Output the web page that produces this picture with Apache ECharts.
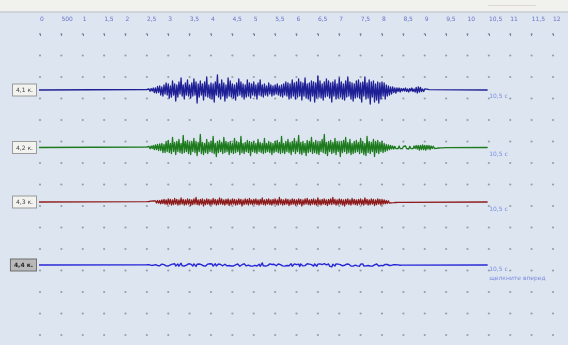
<!DOCTYPE html>
<html><head><meta charset="utf-8">
<script src="https://cdn.jsdelivr.net/npm/echarts@6/dist/echarts.min.js"></script>
<style>html,body{margin:0;padding:0;background:#dde6f0;overflow:hidden}#c{width:568px;height:345px}</style>
</head><body><div id="c"></div><script>
// --- data ---
const tickTimes = [0,0.5,1,1.5,2,2.5,3,3.5,4,4.5,5,5.5,6,6.5,7,7.5,8,8.5,9,9.5,10,10.5,11,11.5,12];
const tickLabels = ['0','500','1','1,5','2','2,5','3','3,5','4','4,5','5','5,5','6','6,5','7','7,5','8','8,5','9','9,5','10','10,5','11','11,5','12'];
const dotRows = [0,1,2,3,4,5,6,7,8,9,10,11,12,13,14];
const traceNames = ['4,1 к.','4,2 к.','4,3 к.','4,4 к.'];
const traceStart = -0.05;
const traceEnd = 10.46;
const burstStart = 2.5;
const sampleStep = 0.025;
const endText = '10,5 с';
const hintText = 'щелкните вперед';

const trace1 = [
 0.5,-0.8,1,-1.2,1.5,-1,2,-2.5,2,-3,3.5,-2.5,4,-5,3,-6,5,-4,7,-5,
 6,-8,4,-7,9,-5,6,-11,5,-7,8,-4,12,-6,5,-9,7,-5,10,-6,
 5,-8,7,-6,11,-5,8,-13,6,-7,9,-5,6,-10,8,-6,13,-7,5,-8,
 7,-9,6,-12,8,-5,15,-7,6,-9,10,-6,7,-11,5,-8,12,-6,9,-7,
 6,-8,5,-10,7,-6,11,-5,8,-7,6,-9,5,-7,10,-6,7,-8,6,-5,
 8,-6,5,-9,7,-5,10,-6,5,-7,6,-5,4,-6,7,-4,5,-6,4,-5,
 5,-4,6,-5,4,-6,5,-7,6,-5,8,-6,7,-9,6,-8,10,-6,7,-9,
 8,-7,11,-6,8,-10,7,-6,12,-8,6,-9,7,-11,9,-6,8,-12,7,-8,
 14,-7,9,-8,6,-10,8,-7,11,-6,9,-8,7,-12,8,-6,10,-9,6,-8,
 12,-7,8,-9,6,-10,9,-7,13,-6,8,-9,7,-11,6,-8,9,-7,10,-8,
 7,-12,8,-6,13,-9,7,-8,10,-14,8,-7,9,-12,6,-10,8,-13,7,-9,
 8,-6,7,-9,5,-6,4,-5,3,-4,3,-2.5,2,-3,2,-1.5,2,-2,1.5,-1,
 1.5,-1,2,-1.5,1,-2,1.5,-1,2,-1.5,1,-2,2.5,-3,3,-2,2.5,-1.5,1,-1.5,
 1,-0.8,0.8,-0.5,0.4,-0.3];
const trace2 = [
 0.5,-0.8,1,-1.2,1.5,-1,2,-2,2.5,-2,3,-3,3.5,-3,4,-5,3,-5,6,-4,
 7,-5,4,-6,10,-4,5,-7,6,-4,8,-5,4,-6,12,-5,6,-4,7,-6,
 5,-7,6,-4,9,-5,6,-8,5,-4,13,-6,5,-7,4,-5,8,-6,5,-4,
 6,-5,11,-6,4,-9,6,-5,7,-4,5,-6,10,-5,6,-4,5,-7,6,-5,
 4,-6,9,-5,6,-4,5,-7,11,-5,4,-6,5,-4,7,-5,6,-8,5,-4,
 6,-5,4,-6,8,-4,5,-5,4,-6,9,-5,4,-4,6,-5,5,-7,4,-5,
 6,-4,7,-5,5,-6,11,-5,4,-6,6,-4,8,-5,5,-7,6,-4,9,-6,
 5,-4,12,-6,5,-7,6,-5,4,-8,7,-5,6,-4,10,-6,5,-5,7,-6,
 5,-7,6,-4,8,-5,13,-6,5,-8,6,-4,7,-6,5,-5,9,-7,6,-4,
 5,-9,6,-5,7,-4,10,-6,5,-5,8,-7,4,-6,6,-5,7,-4,5,-6,
 9,-5,6,-7,4,-8,11,-5,6,-6,5,-4,8,-9,6,-5,7,-6,5,-4,
 6,-5,4,-4,3,-3,2.5,-2,2,-1.5,1.5,-1.5,1.2,-1,1,-1.2,1.5,-1,1,-1.2,
 1,-1,1.5,-1,1,-1.5,1.2,-1,1,-1.2,1.5,-1,2,-1.5,2,-2.5,2,-2,2.5,-2,
 2,-2.5,2,-1.5,2,-2,1.5,-1,1.2,-1,1,-0.8,0.8,-0.5,0.5,-0.4,0.3,-0.3,0.2,-0.2];
const trace3 = [
 0.3,-0.4,0.5,-0.6,0.8,-0.7,1,-1,1.2,-1,1.5,-1.2,1.5,-1.8,2,-1.5,2.5,-2,2,-2.5,
 3,-2,2.5,-3,2,-2.5,3.5,-2,2.5,-3,2,-2.5,4,-2,2.5,-3,2,-2.5,3,-2,
 2.5,-3.5,2,-2.5,3,-2,4.5,-2.5,2,-3,2.5,-2,3,-4,2,-2.5,3,-2,2.5,-3,
 2,-2.5,3.5,-2,2.5,-3,2,-2.5,4,-2,3,-2.5,2,-3,2.5,-2,3,-3.5,2,-2.5,
 3,-2,2.5,-3,2,-2.5,3,-2,2.5,-4,2,-2.5,3,-2,2.5,-3,3.5,-2,2,-2.5,
 2.5,-2,3,-2.5,2,-3,2.5,-2,4,-2.5,2,-3,2.5,-2,3,-2.5,2,-3,2.5,-2,
 3,-2.5,2,-3,4.5,-2,2.5,-3,2,-2.5,3,-2,2.5,-3.5,2,-2.5,3,-2,2.5,-3,
 2,-2.5,3,-2,2.5,-4,2,-2.5,3,-2,3.5,-2.5,2,-3,2.5,-2,3,-2.5,2,-3,
 4,-2.5,2,-3,2.5,-2,3,-2.5,2,-3.5,2.5,-2,3,-2.5,4.5,-2,2.5,-3,2,-2.5,
 3,-2,2.5,-3,2,-4,2.5,-2,3,-2.5,2,-3,3.5,-2,2.5,-2.5,2,-3,2.5,-2,
 3,-2.5,2,-3,4,-2,2.5,-3,2,-2.5,3,-2,2.5,-3.5,2,-2.5,3,-2,2.5,-3,
 2.5,-2,2,-1.8,1.5,-1.5,1.2,-1,1,-0.8,0.8,-0.7,0.6,-0.5,0.5,-0.4,0.4,-0.3,0.3,-0.3];
const trace4 = [
 0.2,-0.3,0.3,0.1,-0.4,0.5,-0.3,-0.6,0.4,0.7,-0.5,0.6,-0.8,-0.4,0.9,-0.6,0.3,1,-0.9,0.5,
 -1,0.8,0.2,-1.1,0.9,-0.4,1.3,-1,-0.3,0.9,-1.2,0.6,1.8,-0.8,0.4,-1,0.9,-0.2,-1.1,1.2,
 -0.7,0.9,0.3,-1,1.1,-0.5,-1.4,0.8,-0.2,1,-0.9,0.4,2.4,-0.8,0.6,-1.1,0.2,0.9,-1,1.2,
 -0.6,1,-1.1,0.3,1.3,-0.9,-0.4,1,-1,0.5,1.1,-0.8,-1.2,0.7,0.2,-0.9,1,-0.5,1.4,-1,
 0.4,-1,0.9,0.2,-1.1,1.1,-0.6,-1.2,0.8,0.3,-1,1.2,-0.4,-0.9,1,-0.2,1.2,-1,0.5,-1.1,
 0.9,-0.3,1.1,-1,-0.5,0.8,-1.3,0.6,2.1,-0.9,0.3,-1,1,-0.6,-0.2,1.1,-0.9,0.5,-1.1,0.8,
 1.2,-0.8,-0.3,1,-1,0.4,1.4,-0.9,0.2,-1.1,0.9,-0.5,1,-0.8,-0.3,1.2,-1.2,0.6,1.1,-0.9,
 0.3,-1,0.9,-1.4,1.1,0.2,-0.9,1,-0.6,-1.1,1.2,-0.4,0.9,-1,0.3,0.8,-1.1,1.1,-0.5,-1.2,
 0.9,-0.3,1.1,-0.9,0.4,-1,1.3,-0.6,0.2,-0.9,1,-1.1,0.5,-1.9,0.8,0.3,-1,1.1,-0.7,0.9,
 -1.1,0.4,0.9,-0.8,1.2,-0.3,-1,1,-0.6,0.8,1.4,-1,0.3,-1.1,0.9,-0.2,1,-0.9,0.5,-1.2,
 0.9,-0.4,1.1,-1,0.2,-0.9,1,-0.5,1.2,-1,0.4,-1.1,0.9,0.2,-0.8,1,-0.6,-1,0.9,-0.4,
 0.7,-0.7,0.3,0.6,-0.6,0.5,-0.2,-0.5,0.4,-0.4,0.1,0.4,-0.3,0.3,-0.3,0.1,0.2,-0.2,0.1,-0.1];
const traces = [trace1, trace2, trace3, trace4];

// --- styles ---
const traceColors = ['#1f1f95','#1d7a1d','#8e1b1b','#2626d6'];
const traceWidths = [1.3,1.3,1.3,1.4];
const traceRanges = [20,20,20,20];
const traceCenters = [90,147.5,202,265];
const endOffsets = [[0,6],[0,6.5],[0,7],[0,8.5]];

function traceData(vals){
  const d = [[traceStart,0]];
  vals.forEach((v,i)=>d.push([burstStart + i*sampleStep, v]));
  d.push([traceEnd,0]);
  return d;
}
const dots = [];
tickTimes.forEach(t=>dotRows.forEach(r=>dots.push([t,r])));

const grids = [{left:40,width:513,top:34,height:301}];
const xAxes = [{gridIndex:0,type:'value',position:'top',min:0,max:12,interval:0.5,offset:22,
  axisLine:{show:false},splitLine:{show:false},
  axisTick:{show:true,inside:true,length:2,lineStyle:{color:'#6d74a8',width:1}},
  axisLabel:{inside:true,margin:4,align:'left',fontSize:6,color:'#6a72c8',fontFamily:'DejaVu Sans',
    formatter:v=>{const k=tickTimes.findIndex(t=>Math.abs(t-v)<1e-6);return k<0?'':tickLabels[k];}}}];
const yAxes = [{gridIndex:0,type:'value',min:0,max:14,inverse:true,show:false}];
const series = [{type:'scatter',xAxisIndex:0,yAxisIndex:0,data:dots,symbol:'circle',symbolSize:2.2,
  itemStyle:{color:'#858c99'},silent:true,z:1}];

traces.forEach((vals,k)=>{
  const gi = k+1;
  grids.push({left:40,width:513,top:traceCenters[k]-20,height:40});
  xAxes.push({gridIndex:gi,type:'value',min:0,max:12,show:false});
  const sel = k===3;
  const r = traceRanges[k];
  yAxes.push({gridIndex:gi,type:'value',min:-r,max:r,interval:r,
    axisLine:{show:false},axisTick:{show:false},splitLine:{show:false},
    axisLabel:{margin:4,formatter:v=>v===0?'{b|'+traceNames[k]+'}':'',
      rich:{b:{fontSize:6,fontFamily:'DejaVu Sans',color:sel?'#222':'#444',fontWeight:sel?'bold':'normal',
        backgroundColor:sel?'#b9b9b9':'#f2f2ee',borderColor:sel?'#6e6e6e':'#9a9a9a',borderWidth:1,
        padding:[3,3,2,3],lineHeight:7}}}});
  series.push({type:'line',xAxisIndex:gi,yAxisIndex:gi,data:traceData(vals),symbol:'none',
    clip:false,silent:true,z:3,sampling:null,
    lineStyle:{color:traceColors[k],width:traceWidths[k],join:'round',cap:'round'},
    endLabel:{show:true,distance:2,offset:endOffsets[k],fontSize:6,fontFamily:'DejaVu Sans',
      color:'#7c8ce0',lineHeight:9,
      formatter:()=>k===3?endText+'\n'+hintText:endText}});
});

const chart = echarts.init(document.getElementById('c'),null,{renderer:'canvas'});
chart.setOption({
  animation:false,
  backgroundColor:'#dde6f0',
  graphic:[
    {type:'rect',shape:{x:0,y:0,width:568,height:12},style:{fill:'#f1f1ed'},z:0},
    {type:'line',shape:{x1:0,y1:12,x2:568,y2:12},style:{stroke:'#b9bdc4',lineWidth:1},z:0},
    {type:'line',shape:{x1:488,y1:5.5,x2:536,y2:5.5},style:{stroke:'#ddd6cf',lineWidth:1},z:0}
  ],
  grid:grids, xAxis:xAxes, yAxis:yAxes, series:series
});
</script></body></html>
